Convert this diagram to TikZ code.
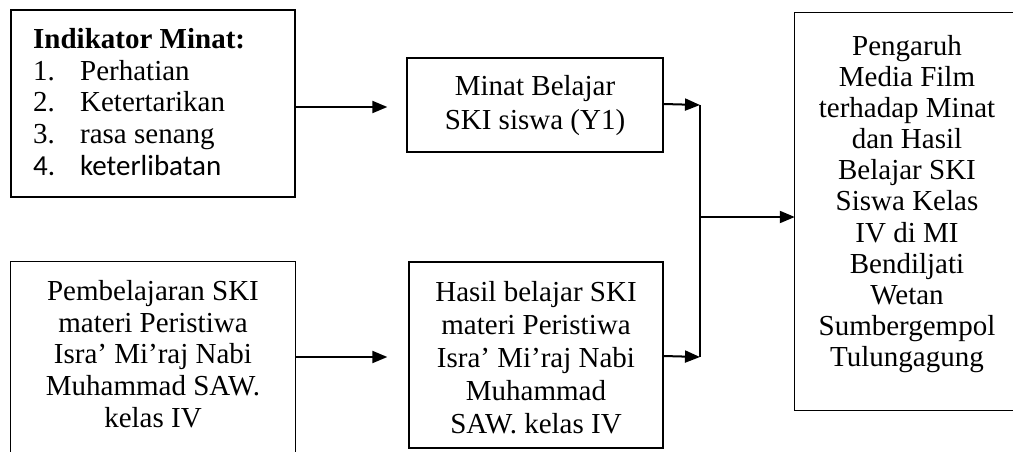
\documentclass[tikz,border=0pt]{standalone}
\usepackage{fontspec}
\setmainfont{Liberation Serif}
\newfontfamily\calibrifont{Carlito}
\usetikzlibrary{arrows.meta}
\begin{document}
\begin{tikzpicture}[x=1pt,y=-1pt,
  box/.style={draw,line width=1.3pt,inner sep=0pt},
  openbox/.style={inner sep=0pt},
  txt/.style={align=center,font=\fontsize{29}{31.7}\selectfont,inner sep=0pt},
  arr/.style={line width=2pt,-{Triangle[length=15pt,width=12pt]}},
  edge/.style={line width=1.3pt}]
\useasboundingbox (0,0) rectangle (1013,452);

% boxes
\node[box,minimum width=284pt,minimum height=187pt] (A) at (153,103.5) {};
\node[box,minimum width=256pt,minimum height=94pt] (B) at (535,105) {};
\node[openbox,minimum width=284pt,minimum height=200pt] (C) at (153,362) {};
\node[box,minimum width=254pt,minimum height=186pt] (D) at (536,355) {};
\node[openbox,minimum width=232pt,minimum height=397pt] (R) at (911,211.5) {};
\draw[edge] (C.south west) -- (C.north west) -- (C.north east) -- (C.south east);
\draw[edge] (R.north east) -- (R.north west) -- (R.south west) -- (R.south east);

% texts
\node[txt,align=left,anchor=north west] (At) at (33,28)
  {\textbf{Indikator Minat:}\\
   \makebox[47pt][l]{1.}Perhatian\\
   \makebox[47pt][l]{2.}Ketertarikan\\
   \makebox[47pt][l]{3.}rasa senang\\
   {\calibrifont\makebox[47pt][l]{4.}keterlibatan}};
\node[txt,font=\fontsize{29}{34}\selectfont] (Bt) at (535,106) {Minat Belajar\\SKI siswa (Y1)};
\node[txt] (Ct) at (153,354) {Pembelajaran SKI\\materi Peristiwa\\Isra’ Mi’raj Nabi\\Muhammad SAW.\\kelas IV};
\node[txt,font=\fontsize{29}{33}\selectfont] (Dt) at (536,358) {Hasil belajar SKI\\materi Peristiwa\\Isra’ Mi’raj Nabi\\Muhammad\\SAW. kelas IV};
\node[txt,font=\fontsize{29}{31.1}\selectfont] (Rt) at (907,204) {Pengaruh\\Media Film\\terhadap Minat\\dan Hasil\\Belajar SKI\\Siswa Kelas\\IV di MI\\Bendiljati\\Wetan\\Sumbergempol\\Tulungagung};

% connectors
\coordinate (J1) at (700,105);
\coordinate (J2) at (700,357);
\coordinate (J) at (700,217);
\draw[arr] (A.east |- 0,107) -- ([xshift=-19pt]B.west |- 0,107);
\draw[arr] (C.east |- 0,357) -- ([xshift=-21pt]D.west |- 0,357);
\draw[arr] (B.east |- 0,104) -- (J1);
\draw[arr] (D.east |- 0,356) -- (J2);
\draw[line width=2pt] (J1) -- (J2);
\draw[arr] (J) -- (R.west |- J);
\end{tikzpicture}
\end{document}
